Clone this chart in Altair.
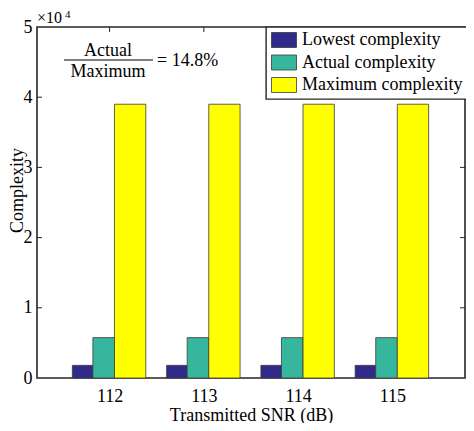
import altair as alt
import pandas as pd

# ---- data ----
snr = [112, 113, 114, 115]
series = ["Lowest complexity", "Actual complexity", "Maximum complexity"]
lowest = [1800, 1800, 1800, 1800]
actual = [5750, 5750, 5750, 5750]
maximum = [39000, 39000, 39000, 39000]
y_ticks = [0, 10000, 20000, 30000, 40000, 50000]
ratio_text = "= 14.8%"

# ---- style ----
colors = ["#302a8a", "#36b79d", "#ffff00"]
bar_left = [-0.395, -0.177, 0.052]
bar_right = [-0.177, 0.052, 0.384]
FONT = "Liberation Serif"
DARK = "#262626"
W, H = 428, 351

rows = []
for s, vals, l, r in zip(series, [lowest, actual, maximum], bar_left, bar_right):
    for x, v in zip(snr, vals):
        rows.append({"series": s, "snr": x, "x0": x + l, "x1": x + r, "value": v})
df = pd.DataFrame(rows)

xscale = alt.Scale(domain=[111.23, 115.77], nice=False, zero=False)
yscale = alt.Scale(domain=[0, 50000], nice=False)

bars = alt.Chart(df).mark_rect(stroke="#3a3a3a", strokeWidth=0.8).encode(
    x=alt.X("x0:Q", scale=xscale,
            axis=alt.Axis(values=snr, format="d", title="Transmitted SNR (dB)",
                          ticks=False, domain=False, grid=False,
                          labelPadding=9, titleY=42, titleBaseline="alphabetic")),
    x2="x1:Q",
    y=alt.Y("value:Q", scale=yscale,
            axis=alt.Axis(values=y_ticks, labelExpr="datum.value / 10000",
                          title="Complexity", ticks=False, domain=False, grid=False,
                          labelPadding=5, titleX=-15, titleY=163,
                          titleBaseline="alphabetic", titleAngle=270)),
    y2=alt.Y2(datum=0),
    color=alt.Color("series:N", scale=alt.Scale(domain=series, range=colors),
                    sort=series,
                    legend=alt.Legend(title=None, orient="none", legendX=229, legendY=0)),
)

ydf = pd.DataFrame({"v": y_ticks[1:-1]})
xdf = pd.DataFrame({"s": snr})
tick_left = alt.Chart(ydf).mark_rule(color=DARK, strokeWidth=1).encode(
    y=alt.Y("v:Q", scale=yscale), x=alt.value(0), x2=alt.value(5))
tick_right = alt.Chart(ydf).mark_rule(color=DARK, strokeWidth=1).encode(
    y=alt.Y("v:Q", scale=yscale), x=alt.value(W - 5), x2=alt.value(W))
tick_top = alt.Chart(xdf).mark_rule(color=DARK, strokeWidth=1).encode(
    x=alt.X("s:Q", scale=xscale), y=alt.value(0), y2=alt.value(5))
tick_bot = alt.Chart(xdf).mark_rule(color=DARK, strokeWidth=1).encode(
    x=alt.X("s:Q", scale=xscale), y=alt.value(H - 5), y2=alt.value(H))

one = pd.DataFrame({"a": [0]})
def txt(t, x, y, size=18, align="left", baseline="alphabetic"):
    return alt.Chart(one).mark_text(font=FONT, fontSize=size, align=align,
                                    baseline=baseline, color="black").encode(
        x=alt.value(x), y=alt.value(y), text=alt.value(t))

frac_line = alt.Chart(one).mark_rule(color="black", strokeWidth=1.2).encode(
    x=alt.value(27), x2=alt.value(116), y=alt.value(33))
ann = [
    txt("Actual", 71, 28.5, align="center"),
    txt("Maximum", 71, 49.5, align="center"),
    txt(ratio_text, 120, 39),
    txt("×10", 0, -4, size=16),
    txt("4", 28, -9, size=11),
    frac_line,
]

chart = alt.layer(tick_left, tick_right, tick_top, tick_bot, bars, *ann).properties(
    width=W, height=H,
    autosize=alt.AutoSizeParams(type="none"),
    padding={"left": 29, "top": 19, "right": 1, "bottom": 45},
).configure_view(stroke=DARK, strokeWidth=1.6).configure_axis(
    labelFont=FONT, titleFont=FONT, labelFontSize=18, titleFontSize=18,
    labelColor="black", titleColor="black", titleFontWeight="normal",
).configure_legend(
    labelFont=FONT, labelFontSize=18, labelColor="black", labelLimit=0,
    symbolType="M-1.667,-1H1.667V1H-1.667Z", symbolSize=225,
    symbolStrokeColor="#3a3a3a", symbolStrokeWidth=0.8, symbolOpacity=1,
    symbolOffset=5, labelOffset=9, rowPadding=2.5, padding=4,
    strokeColor=DARK, strokeWidth=1.4, fillColor="white",
)

chart.save("out.html", embed_options={"renderer": "svg", "actions": False})
